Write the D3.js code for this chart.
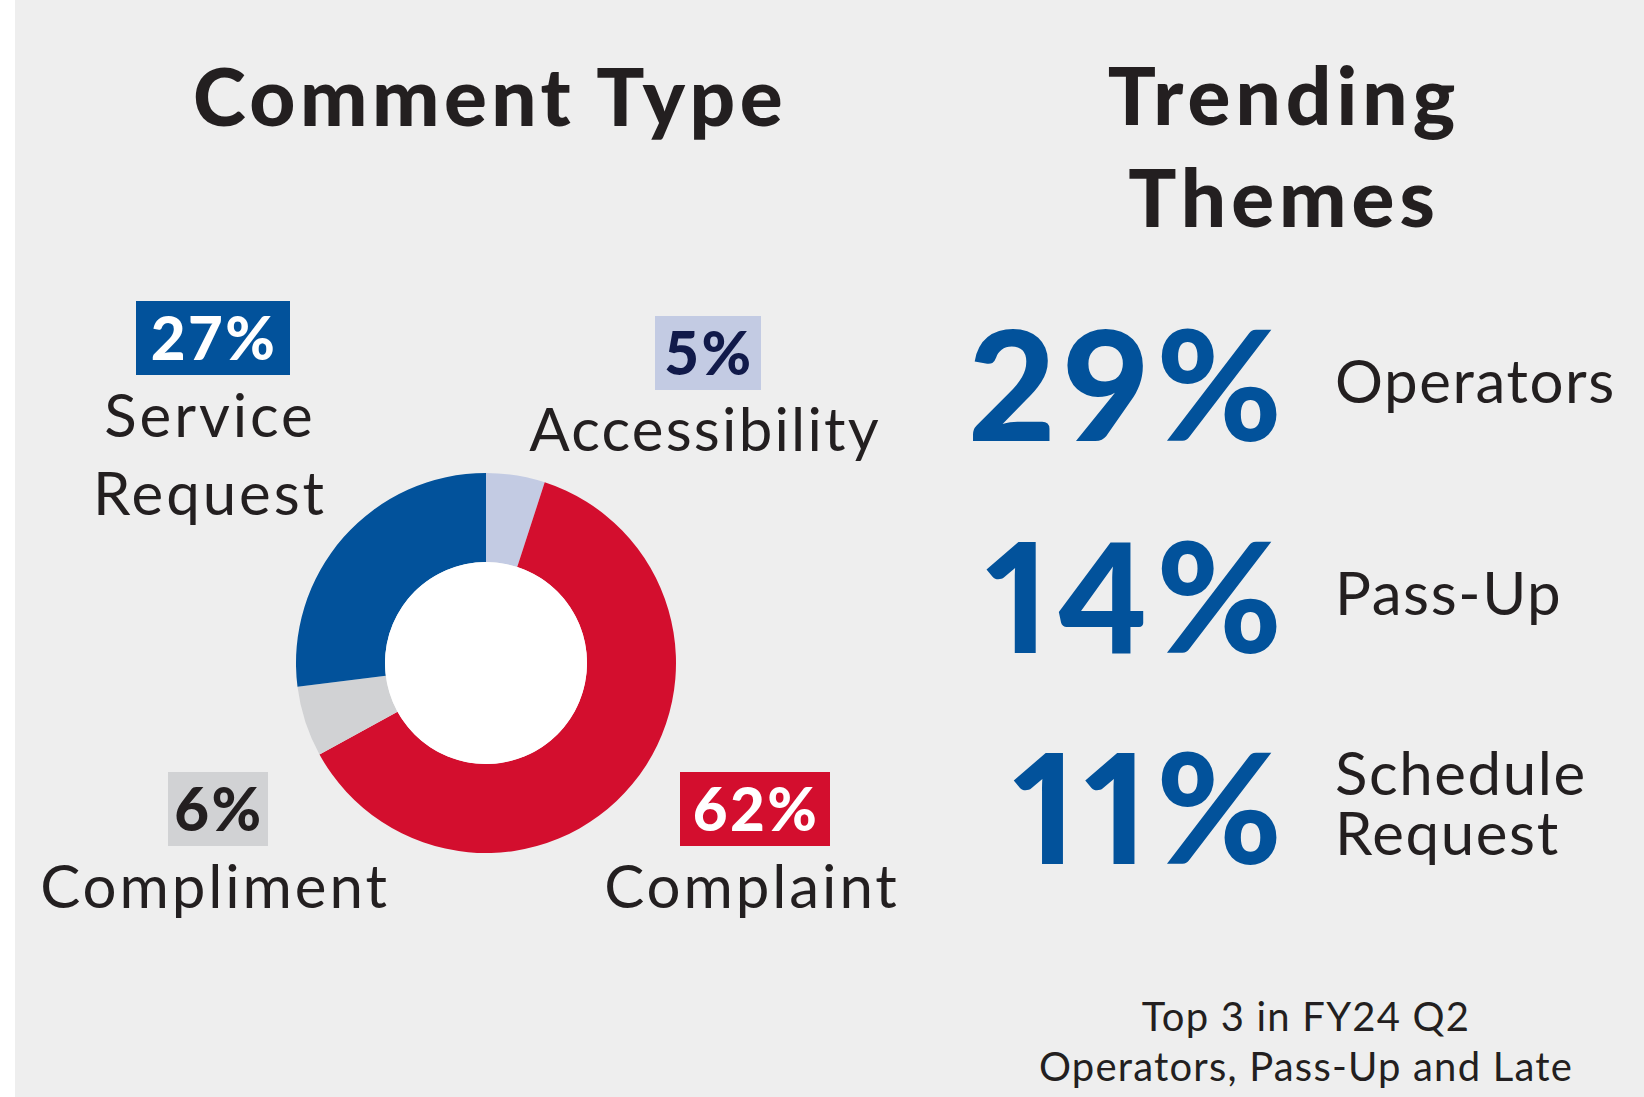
<!DOCTYPE html>
<html>
<head>
<meta charset="utf-8">
<script src="https://cdn.jsdelivr.net/npm/d3@7"></script>
<style>
  html, body { margin: 0; padding: 0; background: #ffffff; }
  svg { display: block; }
  text { font-family: Lato, "Open Sans", sans-serif; }
  .big { font-variant-numeric: proportional-nums; font-feature-settings: "pnum" 1; }
</style>
</head>
<body>
<svg id="chart" width="1644" height="1097"></svg>
<script>
// Comment type shares (percent), clockwise from 12 o'clock
const categories = ["Accessibility", "Complaint", "Compliment", "Service Request"];
const shares = [5, 62, 6, 27];
const sliceColors = ["#c3cbe3", "#d30e2e", "#d1d2d4", "#02529b"];
const badgeTextColors = ["#111a4a", "#ffffff", "#231f20", "#ffffff"];
// label lines (a category name may wrap)
const labelLines = [["Accessibility"], ["Complaint"], ["Compliment"], ["Service", "Request"]];

// Trending themes
const themes = [["Operators"], ["Pass-Up"], ["Schedule", "Request"]];
const themeShares = [29, 14, 11];

const footerLines = ["Top 3 in FY24 Q2", "Operators, Pass-Up and Late"];

const W = 1644, H = 1097;
const svg = d3.select("#chart");

// panel background
svg.append("rect").attr("x", 15).attr("y", 0).attr("width", W - 15).attr("height", H).attr("fill", "#eeeeee");

const ink = "#231f20";
const blue = "#02529b";

// ---- Comment Type ----
svg.append("text").attr("x", 490).attr("y", 126).attr("text-anchor", "middle")
  .attr("font-size", 80).attr("font-weight", 900).attr("fill", ink)
  .attr("letter-spacing", 4.5)
  .text("Comment Type");

const cx = 486, cy = 663;
const pie = d3.pie().sort(null).value(d => d)(shares);
const arc = d3.arc().innerRadius(101).outerRadius(190);
const donut = svg.append("g").attr("transform", `translate(${cx},${cy})`);
donut.selectAll("path").data(pie).join("path")
  .attr("d", arc).attr("fill", (d, i) => sliceColors[i]);
donut.append("circle").attr("r", 101).attr("fill", "#ffffff");

// label anchors: badge centre x, badge top y, first name baseline
const labelPos = [
  { x: 708, boxTop: 316, nameY: 451 },
  { x: 755, boxTop: 772, nameY: 908 },
  { x: 218, boxTop: 772, nameY: 908 },
  { x: 213, boxTop: 301, nameY: 437 }
];
const boxW = [106, 150, 100, 154];
const boxH = 74;

categories.forEach((c, i) => {
  const p = labelPos[i];
  const g = svg.append("g");
  g.append("rect").attr("x", p.x - boxW[i] / 2).attr("y", p.boxTop)
    .attr("width", boxW[i]).attr("height", boxH).attr("fill", sliceColors[i]);
  g.append("text").attr("x", p.x + 1).attr("y", p.boxTop + 59).attr("text-anchor", "middle")
    .attr("font-size", 60).attr("font-weight", 900).attr("fill", badgeTextColors[i])
    .attr("letter-spacing", 2.5)
    .text(d3.format(".0f")(shares[i]) + "%");
  const name = g.append("text").attr("text-anchor", "middle")
    .attr("font-size", 60).attr("font-weight", 400).attr("fill", ink)
    .attr("letter-spacing", i === 0 ? 2.2 : 2.9);
  labelLines[i].forEach((line, j) => {
    name.append("tspan").attr("x", p.x - 3).attr("y", p.nameY + j * 78).text(line);
  });
});

// ---- Trending Themes ----
svg.append("text").attr("x", 1284).attr("y", 125).attr("text-anchor", "middle")
  .attr("font-size", 80).attr("font-weight", 900).attr("fill", ink)
  .attr("letter-spacing", 5).text("Trending");
svg.append("text").attr("x", 1284).attr("y", 227).attr("text-anchor", "middle")
  .attr("font-size", 80).attr("font-weight", 900).attr("fill", ink)
  .attr("letter-spacing", 5).text("Themes");

const rowY = d3.scalePoint().domain(d3.range(themes.length)).range([441, 864]);
themes.forEach((t, i) => {
  const y = rowY(i);
  svg.append("text").attr("class", "big").attr("x", 1290).attr("y", y).attr("text-anchor", "end")
    .attr("font-size", 152).attr("font-weight", 900).attr("fill", blue)
    .attr("letter-spacing", 8)
    .text(themeShares[i] + "%");
  const n = t.length;
  const name = svg.append("text")
    .attr("font-size", 60).attr("font-weight", 400).attr("fill", ink)
    .attr("letter-spacing", 1.6);
  t.forEach((line, j) => {
    const base = n === 1 ? y - 38 : y - 69 + j * 60;
    name.append("tspan").attr("x", 1335).attr("y", base).text(line);
  });
});

const footer = svg.append("text").attr("text-anchor", "middle")
  .attr("font-size", 40).attr("font-weight", 400).attr("fill", ink)
  .attr("letter-spacing", 1.2);
footerLines.forEach((line, i) => {
  footer.append("tspan").attr("x", 1306).attr("y", 1031 + i * 50).text(line);
});
</script>
</body>
</html>
